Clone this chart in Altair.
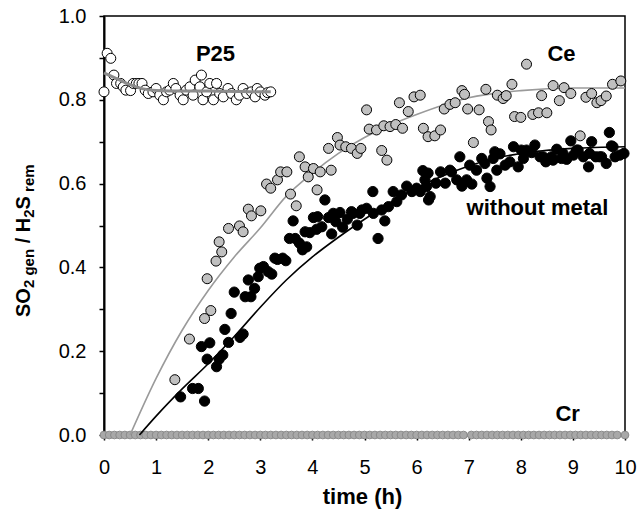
import altair as alt
import pandas as pd

# ---------------- data ----------------
p25_t = [0.00, 0.06, 0.13, 0.19, 0.24, 0.32, 0.37, 0.42, 0.51, 0.56,
         0.62, 0.67, 0.73, 0.79, 0.85, 0.94, 1.00, 1.07, 1.14, 1.20,
         1.26, 1.33, 1.38, 1.46, 1.52, 1.58, 1.65, 1.71, 1.75, 1.84,
         1.87, 1.90, 1.97, 2.03, 2.10, 2.16, 2.22, 2.29, 2.38, 2.45,
         2.54, 2.60, 2.67, 2.74, 2.83, 2.90, 2.94, 3.00, 3.09, 3.14, 3.20]
p25_v = [0.819, 0.911, 0.899, 0.859, 0.839, 0.839, 0.831, 0.823, 0.822, 0.839,
         0.839, 0.839, 0.839, 0.823, 0.815, 0.819, 0.827, 0.811, 0.800, 0.819,
         0.823, 0.839, 0.827, 0.811, 0.800, 0.823, 0.831, 0.811, 0.847, 0.831,
         0.859, 0.800, 0.819, 0.839, 0.800, 0.839, 0.815, 0.807, 0.827, 0.815,
         0.800, 0.811, 0.827, 0.815, 0.819, 0.807, 0.827, 0.819, 0.811, 0.817, 0.819]

p25_fit_t = [0.0, 0.25, 0.5, 0.75, 1.0, 1.25, 1.5, 2.0, 2.5, 3.0, 3.2]
p25_fit_v = [0.864, 0.850, 0.836, 0.826, 0.822, 0.821, 0.821, 0.821, 0.820, 0.819, 0.819]

ce_t = [1.36, 1.64, 1.93, 1.98, 2.05, 2.15, 2.21, 2.26, 2.39, 2.60,
        2.67, 2.77, 2.83, 3.01, 3.12, 3.20, 3.33, 3.39, 3.51, 3.58,
        3.69, 3.75, 3.86, 3.92, 4.02, 4.09, 4.15, 4.31, 4.36, 4.48,
        4.53, 4.64, 4.75, 4.86, 4.93, 5.04, 5.09, 5.23, 5.33, 5.37,
        5.43, 5.49, 5.60, 5.67, 5.73, 5.84, 5.95, 6.07, 6.13, 6.22,
        6.35, 6.46, 6.53, 6.64, 6.74, 6.87, 6.92, 6.98, 7.09, 7.20,
        7.33, 7.38, 7.43, 7.55, 7.66, 7.72, 7.83, 7.88, 8.00, 8.11,
        8.23, 8.34, 8.40, 8.50, 8.62, 8.74, 8.83, 8.96, 9.14, 9.25,
        9.36, 9.46, 9.54, 9.64, 9.76, 9.92]
ce_v = [0.132, 0.229, 0.278, 0.373, 0.297, 0.415, 0.461, 0.437, 0.493, 0.499,
        0.485, 0.539, 0.523, 0.535, 0.599, 0.589, 0.609, 0.628, 0.628, 0.575,
        0.547, 0.664, 0.640, 0.616, 0.636, 0.585, 0.628, 0.684, 0.632, 0.710,
        0.692, 0.688, 0.684, 0.672, 0.684, 0.776, 0.730, 0.728, 0.679, 0.738,
        0.656, 0.736, 0.741, 0.793, 0.732, 0.772, 0.807, 0.811, 0.732, 0.712,
        0.714, 0.728, 0.778, 0.789, 0.793, 0.822, 0.813, 0.778, 0.698, 0.776,
        0.825, 0.748, 0.728, 0.811, 0.803, 0.810, 0.837, 0.760, 0.758, 0.885,
        0.765, 0.769, 0.810, 0.769, 0.834, 0.798, 0.829, 0.815, 0.714, 0.806,
        0.815, 0.793, 0.798, 0.809, 0.837, 0.845]

ce_fit_t = [0.5, 1.0, 1.5, 2.0, 2.5, 3.0, 3.5, 4.0, 4.5, 5.0, 5.5, 6.0, 7.0, 8.0, 9.0, 10.0]
ce_fit_v = [0.0, 0.135, 0.25, 0.345, 0.425, 0.494, 0.57, 0.625, 0.672, 0.71, 0.74, 0.765, 0.805, 0.822, 0.828, 0.828]

nm_t = [1.47, 1.70, 1.81, 1.87, 1.93, 1.98, 2.03, 2.16, 2.21, 2.28,
        2.32, 2.39, 2.44, 2.50, 2.61, 2.67, 2.71, 2.77, 2.82, 2.89,
        2.96, 2.99, 3.06, 3.15, 3.22, 3.28, 3.33, 3.43, 3.49, 3.56,
        3.63, 3.67, 3.75, 3.81, 3.86, 3.89, 3.95, 4.02, 4.08, 4.10,
        4.18, 4.24, 4.31, 4.37, 4.40, 4.45, 4.53, 4.58, 4.67, 4.75,
        4.78, 4.86, 4.91, 4.95, 5.04, 5.16, 5.17, 5.26, 5.33, 5.39,
        5.46, 5.55, 5.62, 5.71, 5.81, 5.91, 6.00, 6.07, 6.12, 6.16,
        6.19, 6.22, 6.23, 6.26, 6.37, 6.46, 6.55, 6.64, 6.67, 6.77,
        6.83, 6.87, 6.96, 7.02, 7.06, 7.15, 7.25, 7.31, 7.35, 7.41,
        7.47, 7.50, 7.54, 7.60, 7.70, 7.79, 7.86, 7.95, 8.01, 8.05,
        8.11, 8.21, 8.27, 8.37, 8.43, 8.48, 8.59, 8.62, 8.69, 8.78,
        8.81, 8.88, 8.96, 9.01, 9.07, 9.10, 9.20, 9.30, 9.32, 9.36,
        9.44, 9.51, 9.55, 9.64, 9.70, 9.74, 9.77, 9.81, 9.90, 9.98]
nm_v = [0.091, 0.111, 0.111, 0.211, 0.081, 0.181, 0.220, 0.163, 0.181, 0.191,
        0.252, 0.221, 0.290, 0.341, 0.233, 0.241, 0.330, 0.370, 0.330, 0.350,
        0.378, 0.398, 0.402, 0.390, 0.384, 0.422, 0.419, 0.422, 0.416, 0.469,
        0.511, 0.469, 0.458, 0.442, 0.485, 0.449, 0.483, 0.519, 0.491, 0.521,
        0.497, 0.561, 0.519, 0.480, 0.529, 0.509, 0.531, 0.496, 0.515, 0.533,
        0.529, 0.501, 0.529, 0.537, 0.541, 0.581, 0.529, 0.469, 0.537, 0.511,
        0.545, 0.581, 0.557, 0.573, 0.594, 0.581, 0.589, 0.581, 0.631, 0.609,
        0.593, 0.625, 0.561, 0.569, 0.601, 0.628, 0.601, 0.632, 0.628, 0.609,
        0.664, 0.594, 0.609, 0.644, 0.599, 0.632, 0.660, 0.648, 0.613, 0.593,
        0.660, 0.676, 0.632, 0.671, 0.644, 0.652, 0.688, 0.640, 0.680, 0.660,
        0.680, 0.674, 0.692, 0.664, 0.664, 0.652, 0.664, 0.656, 0.682, 0.660,
        0.672, 0.658, 0.702, 0.668, 0.680, 0.680, 0.664, 0.640, 0.672, 0.700,
        0.664, 0.664, 0.664, 0.648, 0.722, 0.690, 0.688, 0.664, 0.668, 0.672]

nm_fit_t = [0.68, 1.0, 1.5, 2.0, 2.5, 3.0, 3.5, 4.0, 4.5, 5.0, 5.5, 6.0, 6.5, 7.0, 7.5, 8.0, 9.0, 10.0]
nm_fit_v = [0.0, 0.045, 0.11, 0.17, 0.235, 0.305, 0.37, 0.425, 0.472, 0.515, 0.555, 0.59, 0.618, 0.642, 0.66, 0.672, 0.684, 0.688]

cr_t = [0.0, 0.1, 0.2, 0.3, 0.4, 0.5, 0.6, 0.7, 0.8, 0.9,
        1.0, 1.1, 1.2, 1.3, 1.4, 1.5, 1.6, 1.7, 1.8, 1.9,
        2.0, 2.1, 2.2, 2.3, 2.4, 2.5, 2.6, 2.7, 2.8, 2.9,
        3.0, 3.1, 3.2, 3.3, 3.4, 3.5, 3.6, 3.7, 3.8, 3.9,
        4.0, 4.1, 4.2, 4.3, 4.4, 4.5, 4.6, 4.7, 4.8, 4.9,
        5.0, 5.1, 5.2, 5.3, 5.4, 5.5, 5.6, 5.7, 5.8, 5.9,
        6.0, 6.1, 6.2, 6.3, 6.4, 6.5, 6.6, 6.7, 6.8, 6.9,
        7.05, 7.15, 7.25, 7.35, 7.45, 7.55, 7.65, 7.75, 7.85, 7.95,
        8.05, 8.15, 8.25, 8.35, 8.45, 8.55, 8.65, 8.75, 8.85, 8.95,
        9.05, 9.15, 9.25, 9.35, 9.45, 9.55, 9.65, 9.75, 9.85, 10.0]
cr_v = [0.0] * len(cr_t)

x_ticks = [0, 0.5, 1, 1.5, 2, 2.5, 3, 3.5, 4, 4.5, 5, 5.5, 6, 6.5, 7, 7.5, 8, 8.5, 9, 9.5, 10]
y_ticks = [0, 0.1, 0.2, 0.3, 0.4, 0.5, 0.6, 0.7, 0.8, 0.9, 1.0]

# ---------------- chart ----------------
FONT = "Liberation Sans"

x_axis = alt.Axis(values=x_ticks, labelExpr="datum.value % 1 === 0 ? format(datum.value, 'd') : ''",
                  labelFlush=False, labelOverlap=False, labelPadding=17, tickSize=5, title=None)
y_axis = alt.Axis(values=y_ticks, labelExpr="round(datum.value * 10) % 2 === 0 ? format(datum.value, '.1f') : ''",
                  labelOverlap=False, labelPadding=13, tickSize=5, title=None)
X = alt.X("t:Q", scale=alt.Scale(domain=[0, 10], nice=False, zero=False), axis=x_axis)
Y = alt.Y("v:Q", scale=alt.Scale(domain=[0, 1], nice=False), axis=y_axis)


def frame(t, v):
    return pd.DataFrame({"t": t, "v": v})


cr = alt.Chart(frame(cr_t, cr_v)).mark_point(
    shape="circle", filled=True, fill="#a8a8a8", stroke="#8a8a8a", strokeWidth=1, size=60, opacity=1
).encode(x=X, y=Y)

ce_fit = alt.Chart(frame(ce_fit_t, ce_fit_v)).mark_line(
    color="#9a9a9a", strokeWidth=1.6, interpolate="monotone"
).encode(x=X, y=Y)
nm_fit = alt.Chart(frame(nm_fit_t, nm_fit_v)).mark_line(
    color="black", strokeWidth=1.6, interpolate="monotone"
).encode(x=X, y=Y)

ce = alt.Chart(frame(ce_t, ce_v)).mark_point(
    shape="circle", filled=True, fill="#c0c0c0", stroke="black", strokeWidth=1, size=100, opacity=1
).encode(x=X, y=Y)
nm = alt.Chart(frame(nm_t, nm_v)).mark_point(
    shape="circle", filled=True, fill="black", stroke="black", strokeWidth=1, size=105, opacity=1
).encode(x=X, y=Y)
p25 = alt.Chart(frame(p25_t, p25_v)).mark_point(
    shape="circle", filled=True, fill="white", stroke="black", strokeWidth=1, size=100, opacity=1
).encode(x=X, y=Y)
p25_fit = alt.Chart(frame(p25_fit_t, p25_fit_v)).mark_line(
    color="#8c8c8c", strokeWidth=3, interpolate="monotone"
).encode(x=X, y=Y)

one = pd.DataFrame({"a": [0]})


def note(text, t, v, size=22):
    return alt.Chart(one).mark_text(
        text=text, font=FONT, fontSize=size, fontWeight="bold", color="black",
        align="center", baseline="middle"
    ).encode(x=alt.datum(t), y=alt.datum(v))


notes = [note("P25", 2.14, 0.91), note("Ce", 8.78, 0.909),
         note("without metal", 8.32, 0.542), note("Cr", 8.9, 0.05)]


def pix_text(text, px, py, size, angle=0, align="center", baseline="alphabetic"):
    return alt.Chart(one).mark_text(
        text=text, font=FONT, fontSize=size, fontWeight="bold", color="black",
        align=align, baseline=baseline, angle=angle
    ).encode(x=alt.value(px), y=alt.value(py))


# x axis title
titles = [pix_text("time (h)", 258.5, 488, 22)]

# y axis title with subscripts, rotated (reads bottom to top)
BIG, SUB = 20, 15
xb, xs = -74.5, -70.0
pieces = [("SO", BIG, 301.0), ("2", SUB, 272.1), ("gen", SUB, 259.6), ("/", BIG, 227.3),
          ("H", BIG, 216.2), ("2", SUB, 201.8), ("S", BIG, 193.4), ("rem", SUB, 175.9)]
for txt, sz, yy in pieces:
    titles.append(pix_text(txt, xb if sz == BIG else xs, yy, sz, angle=270, align="left"))

chart = alt.layer(
    cr, ce_fit, nm_fit, ce, nm, p25, p25_fit, *notes, *titles
).properties(
    width=521, height=419,
    autosize=alt.AutoSizeParams(type="none"),
    padding={"left": 104, "top": 16, "right": 18, "bottom": 83},
    background="white",
).configure_view(
    stroke="black", strokeWidth=1.5
).configure_axis(
    grid=False, domainColor="black", domainWidth=2, tickColor="black", tickWidth=1.5,
    labelColor="black", labelFont=FONT, labelFontSize=20
)

chart.save("out.html", embed_options={"renderer": "svg", "actions": False})
